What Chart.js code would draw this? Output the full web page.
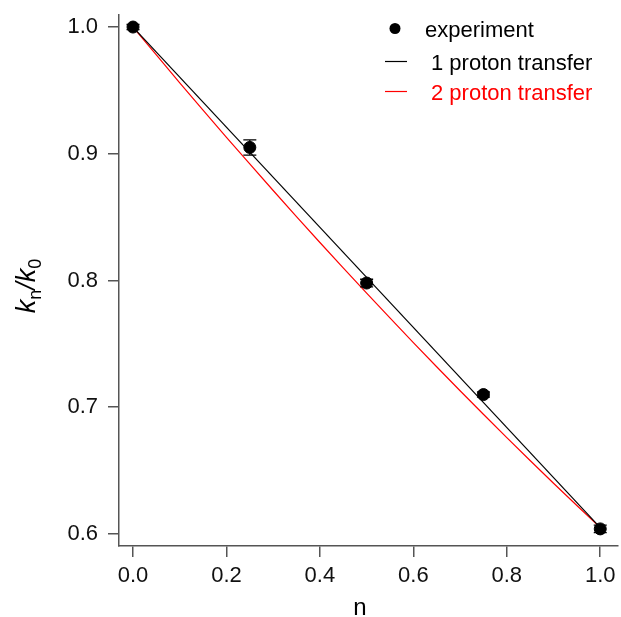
<!DOCTYPE html>
<html>
<head>
<meta charset="utf-8">
<script src="https://cdn.jsdelivr.net/npm/chart.js@4.4.1/dist/chart.umd.min.js"></script>
<style>
  html, body { margin: 0; padding: 0; background: #fff; overflow: hidden; }
  #chart { display: block; }
</style>
</head>
<body>
<canvas id="chart" width="625" height="617"></canvas>
<script>
// proton inventory: measured rates
const nExp = [0, 0.25, 0.5, 0.75, 1.0];
const kExp = [1.000, 0.905, 0.798, 0.710, 0.604];
const kErr = [0.002, 0.006, 0.003, 0.002, 0.003];

// 1 proton transfer model (straight line)
const nOne = [0, 1.0];
const kOne = [1.000, 0.605];

// 2 proton transfer model (slightly bowed)
const nTwo = [0, 0.1, 0.2, 0.3, 0.4, 0.5, 0.6, 0.7, 0.8, 0.9, 1.0];
const kTwo = [1.000, 0.956, 0.913, 0.871, 0.830, 0.790, 0.751, 0.713, 0.676, 0.640, 0.605];

const xTicks = [0, 0.2, 0.4, 0.6, 0.8, 1.0];
const yTicks = [0.6, 0.7, 0.8, 0.9, 1.0];

const legendItems = ['experiment', '1 proton transfer', '2 proton transfer'];

const AXIS = '#555';
const FONT = '"Liberation Sans", Arial, sans-serif';

const toPoints = (xs, ys) => xs.map((x, i) => ({ x: x, y: ys[i] }));

// keep the plot box fixed: no extra room for overhanging labels
function noScalePadding(s) {
    s.paddingLeft = 0; s.paddingRight = 0;
    s.paddingTop = 0; s.paddingBottom = 0;
}

// vertical error bars with caps
const errorBars = {
    id: 'errorBars',
    afterDatasetsDraw(chart) {
        const { ctx, scales: { x, y } } = chart;
        ctx.save();
        ctx.strokeStyle = '#000';
        ctx.lineWidth = 1.3;
        nExp.forEach((n, i) => {
            const px = x.getPixelForValue(n);
            const top = y.getPixelForValue(kExp[i] + kErr[i]);
            const bot = y.getPixelForValue(kExp[i] - kErr[i]);
            ctx.beginPath();
            ctx.moveTo(px, top); ctx.lineTo(px, bot);
            ctx.moveTo(px - 6.5, top); ctx.lineTo(px + 6.5, top);
            ctx.moveTo(px - 6.5, bot); ctx.lineTo(px + 6.5, bot);
            ctx.stroke();
        });
        ctx.restore();
    }
};

// axis titles: italic k with subscripts on y, plain n on x
const axisTitles = {
    id: 'axisTitles',
    afterDraw(chart) {
        const { ctx } = chart;
        ctx.save();
        ctx.fillStyle = '#000';
        ctx.textBaseline = 'alphabetic';

        const big = 'italic 27px ' + FONT;
        const sub = '18px ' + FONT;
        const parts = [
            { t: 'k', f: big, dy: 0 },
            { t: 'n', f: sub, dy: 6 },
            { t: '/', f: big, dy: 0 },
            { t: 'k', f: big, dy: 0 },
            { t: '0', f: sub, dy: 6 }
        ];
        let total = 0;
        parts.forEach(p => { ctx.font = p.f; p.w = ctx.measureText(p.t).width; total += p.w; });
        ctx.translate(35, 286);
        ctx.rotate(-Math.PI / 2);
        let cx = -total / 2;
        parts.forEach(p => {
            ctx.font = p.f;
            ctx.fillText(p.t, cx, p.dy);
            cx += p.w;
        });
        ctx.restore();

        ctx.save();
        ctx.fillStyle = '#000';
        ctx.font = '24px ' + FONT;
        ctx.textAlign = 'center';
        ctx.textBaseline = 'alphabetic';
        ctx.fillText('n', 360, 615);
        ctx.restore();
    }
};

// legend in the upper right corner
const cornerLegend = {
    id: 'cornerLegend',
    afterDraw(chart) {
        const { ctx } = chart;
        ctx.save();
        ctx.font = '22px ' + FONT;
        ctx.textBaseline = 'alphabetic';

        ctx.fillStyle = '#000';
        ctx.beginPath();
        ctx.arc(395, 28.5, 5.5, 0, Math.PI * 2);
        ctx.fill();
        ctx.fillText(legendItems[0], 425, 37);

        ctx.lineWidth = 1.2;
        ctx.strokeStyle = '#000';
        ctx.beginPath(); ctx.moveTo(385, 61.5); ctx.lineTo(407, 61.5); ctx.stroke();
        ctx.fillText(legendItems[1], 431, 70);

        ctx.strokeStyle = '#ff0000';
        ctx.fillStyle = '#ff0000';
        ctx.beginPath(); ctx.moveTo(385, 91.5); ctx.lineTo(407, 91.5); ctx.stroke();
        ctx.fillText(legendItems[2], 431, 100);
        ctx.restore();
    }
};

const axisStyle = {
    grid: { display: true, drawOnChartArea: false, drawTicks: true, tickLength: 11, color: AXIS, lineWidth: 1.5 },
    border: { display: true, color: AXIS, width: 1.5 }
};

new Chart(document.getElementById('chart'), {
    type: 'scatter',
    data: {
        datasets: [
            {
                label: legendItems[0],
                data: toPoints(nExp, kExp),
                pointRadius: 6,
                pointBackgroundColor: '#000',
                pointBorderColor: '#000',
                showLine: false
            },
            {
                label: legendItems[1],
                data: toPoints(nOne, kOne),
                showLine: true,
                borderColor: '#000',
                borderWidth: 1.2,
                pointRadius: 0
            },
            {
                label: legendItems[2],
                data: toPoints(nTwo, kTwo),
                showLine: true,
                borderColor: '#ff0000',
                borderWidth: 1.2,
                tension: 0.3,
                pointRadius: 0
            }
        ]
    },
    options: {
        responsive: false,
        animation: false,
        devicePixelRatio: 1,
        layout: { padding: { top: 15, right: 1, left: 0, bottom: 0 } },
        plugins: {
            legend: { display: false },
            tooltip: { enabled: false }
        },
        scales: {
            x: {
                type: 'linear',
                min: -0.030,
                max: 1.038,
                ...axisStyle,
                afterBuildTicks: (s) => { s.ticks = xTicks.map(v => ({ value: v })); },
                afterFit: (s) => { s.height = 71; noScalePadding(s); },
                ticks: {
                    color: '#111',
                    padding: 6,
                    font: { family: FONT, size: 22 },
                    callback: (v) => v.toFixed(1)
                }
            },
            y: {
                type: 'linear',
                min: 0.5905,
                max: 1.0095,
                ...axisStyle,
                afterBuildTicks: (s) => { s.ticks = yTicks.map(v => ({ value: v })); },
                afterFit: (s) => { s.width = 119; noScalePadding(s); },
                ticks: {
                    color: '#111',
                    padding: 10,
                    font: { family: FONT, size: 22 },
                    callback: (v) => v.toFixed(1)
                }
            }
        }
    },
    plugins: [errorBars, axisTitles, cornerLegend]
});
</script>
</body>
</html>
